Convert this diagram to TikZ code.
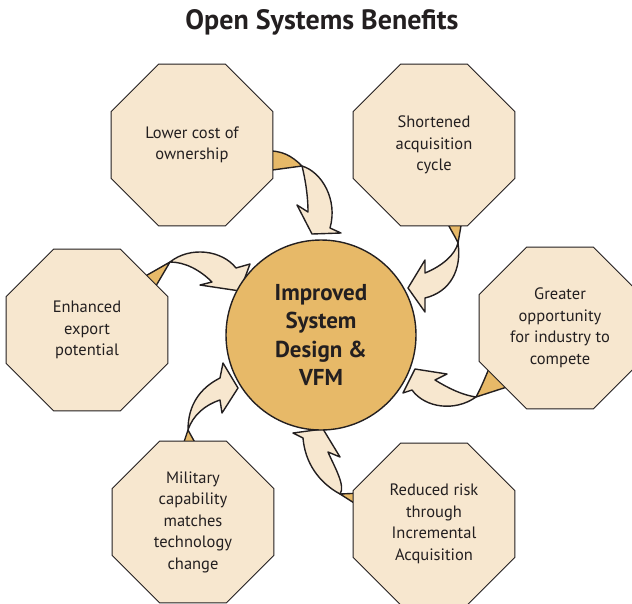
\documentclass[tikz,border=0pt]{standalone}
\usepackage{fontspec}
\setmainfont{PT Sans}
\usetikzlibrary{shapes.geometric}
\definecolor{sand}{RGB}{247,231,207}
\definecolor{ochre}{RGB}{231,185,104}
\definecolor{ink}{RGB}{35,31,32}

\begin{document}
\begin{tikzpicture}[x=1pt,y=-1pt,
    benefit/.style={regular polygon,regular polygon sides=8,minimum size=175pt,inner sep=0pt,
      draw=ink,line width=0.9pt,fill=sand,text=ink,align=center,font=\fontsize{16.5}{21.5}\selectfont},
    core/.style={circle,minimum size=190pt,inner sep=0pt,draw=ink,line width=1.4pt,fill=ochre,
      text=ink,align=center,font=\fontsize{23}{28.5}\selectfont\bfseries},
    ribbon/.style={draw=ink,line width=1.4pt,line join=round,fill=sand},
    twist/.style={draw=ink,line width=1.4pt,line join=round,fill=ochre}]
    \clip (0,0) rectangle (632,603);

    % Curved arrows, drawn first so the shapes cover their tails
    % cost -> vfm
    \draw[twist] (302,166) .. controls (292,156) and (282,150) .. (265,151) -- (265,171) -- cycle;
    \draw[ribbon] (302,166) .. controls (322,172) and (338,200) .. (330,228) -- (341,233) -- (312,234)
        -- (297,205) -- (308,212) .. controls (308,195) and (305,178) .. (302,166) -- cycle;
    % cycle -> vfm
    \draw[twist] (458,243) .. controls (455,236) and (450,229) .. (446,220) -- (462,220) -- cycle;
    \draw[ribbon] (458,243) .. controls (462,270) and (450,292) .. (425,298) -- (425,312) -- (408,288)
        -- (425,260) -- (425,273) .. controls (442,266) and (455,255) .. (458,243) -- cycle;
    % industry -> vfm
    \draw[twist] (476,397) .. controls (481,388) and (485,378) .. (490,366) -- (510,386) -- cycle;
    \draw[ribbon] (476,397) .. controls (455,412) and (425,408) .. (412,390) -- (403,393) -- (415,369)
        -- (447,374) -- (435,380) .. controls (448,388) and (462,395) .. (476,397) -- cycle;
    % export -> vfm
    \draw[twist] (170,262) -- (135,282) -- (150,296) -- cycle;
    \draw[ribbon] (170,262) .. controls (190,246) and (222,250) .. (236,268) -- (250,264) -- (240,291)
        -- (200,285) -- (212,282) .. controls (200,270) and (185,262) .. (170,262) -- cycle;
    % military -> vfm
    \draw[twist] (188,430) -- (182,448) -- (198,448) -- cycle;
    \draw[ribbon] (188,430) .. controls (188,405) and (200,388) .. (220,378) -- (223,363) -- (238,388)
        -- (222,413) -- (220,400) .. controls (205,405) and (193,415) .. (188,430) -- cycle;
    % risk -> vfm
    \draw[twist] (340,494) -- (362,493) -- (362,508) -- cycle;
    \draw[ribbon] (340,494) .. controls (346,486) and (334,466) .. (328,452) -- (340,457) -- (323,429)
        -- (293,433) -- (303,438) .. controls (305,462) and (318,482) .. (340,494) -- cycle;

    % Title and centre
    \node[font=\fontsize{28}{32}\selectfont\bfseries,text=ink] (title) at (322,22) {Open Systems Benefits};
    \node[core] (vfm) at (321,335) {Improved\\System\\Design \&\\VFM};

    % Benefits
    \node[benefit] (cost) at (192,145) {Lower cost of\\ownership};
    \node[benefit] (cycle) at (434,145) {Shortened\\acquisition\\cycle};
    \node[benefit] (industry) at (560,328) {Greater\\opportunity\\for industry to\\compete};
    \node[benefit] (export) at (87,330) {Enhanced\\export\\potential};
    \node[benefit] (military) at (193,522) {Military\\capability\\matches\\technology\\change};
    \node[benefit] (risk) at (434,524) {Reduced risk\\through\\Incremental\\Acquisition};
\end{tikzpicture}
\end{document}
